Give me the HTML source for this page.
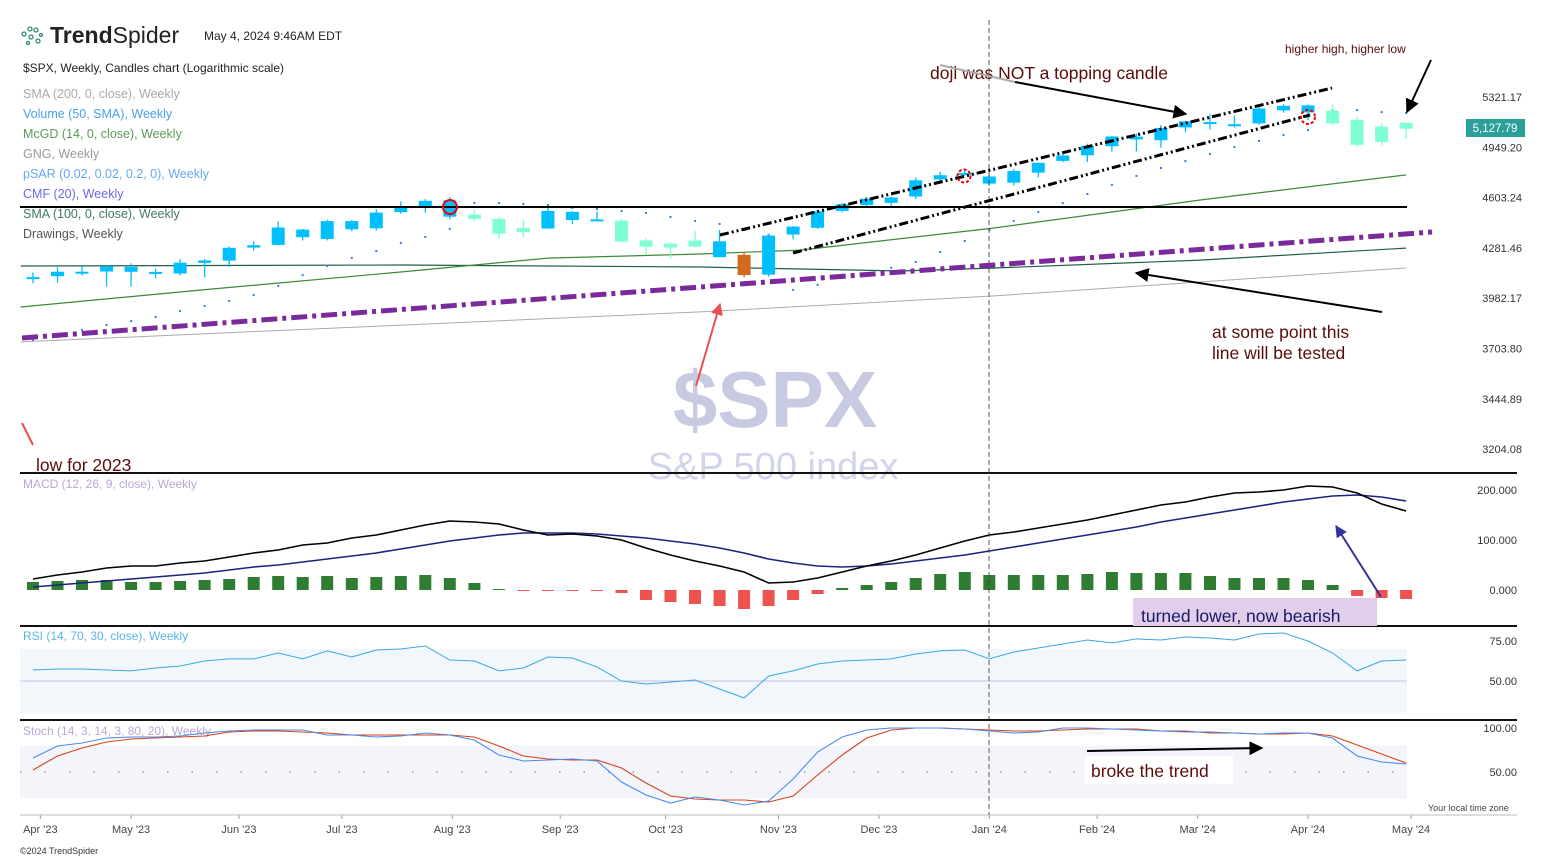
<!DOCTYPE html>
<html><head><meta charset="utf-8">
<style>
html,body{margin:0;padding:0;background:#fff;}
svg{display:block;font-family:"Liberation Sans",sans-serif;}
</style></head>
<body>
<svg id="chart" width="1547" height="860" viewBox="0 0 1547 860" xmlns="http://www.w3.org/2000/svg">
<defs>
<marker id="ahBlack" viewBox="0 0 10 10" refX="9" refY="5" markerWidth="7" markerHeight="7" orient="auto"><path d="M0,0 L10,5 L0,10 z" fill="#000"/></marker>
<marker id="ahRed" viewBox="0 0 10 10" refX="9" refY="5" markerWidth="6" markerHeight="6" orient="auto"><path d="M0,0 L10,5 L0,10 z" fill="#e85050"/></marker>
<marker id="ahBlue" viewBox="0 0 10 10" refX="9" refY="5" markerWidth="6" markerHeight="6" orient="auto"><path d="M0,0 L10,5 L0,10 z" fill="#33339a"/></marker>
</defs>
<g>
<g fill="none" stroke="#2e8a7a" stroke-width="1.3">
<circle cx="24" cy="34" r="2"/><circle cx="30" cy="29" r="2"/><circle cx="36" cy="30" r="2"/><circle cx="31" cy="37" r="2"/><circle cx="38" cy="41" r="2"/><circle cx="28" cy="43" r="1.5"/><circle cx="41" cy="35" r="1.5"/>
</g>
<text x="50" y="43" font-size="23" fill="#222"><tspan font-weight="bold">Trend</tspan>Spider</text>
</g>
<text x="204" y="40" font-size="12" fill="#222">May 4, 2024 9:46AM EDT</text>
<text x="23" y="72" font-size="12" fill="#222">$SPX, Weekly, Candles chart (Logarithmic scale)</text>
<g font-size="12.5">
<text x="23" y="98" fill="#aaa">SMA (200, 0, close), Weekly</text>
<text x="23" y="118" fill="#4aa0e8">Volume (50, SMA), Weekly</text>
<text x="23" y="138" fill="#5a9a5a">McGD (14, 0, close), Weekly</text>
<text x="23" y="158" fill="#999">GNG, Weekly</text>
<text x="23" y="178" fill="#66a6f0">pSAR (0.02, 0.02, 0.2, 0), Weekly</text>
<text x="23" y="198" fill="#6a6ae8">CMF (20), Weekly</text>
<text x="23" y="218" fill="#3f7a66">SMA (100, 0, close), Weekly</text>
<text x="23" y="238" fill="#555">Drawings, Weekly</text>
</g>
<text x="775" y="427" font-size="80" font-weight="bold" fill="#c8cae2" text-anchor="middle">$SPX</text>
<text x="773" y="479" font-size="38" fill="#d2d4ea" text-anchor="middle">S&amp;P 500 index</text>
<g id="price-pane"></g>
<g id="macd-pane"></g>
<g id="rsi-pane"></g>
<g id="stoch-pane"></g>
<g id="xaxis"></g>
<line x1="20" y1="473" x2="1517" y2="473" stroke="#111" stroke-width="2"/>
<line x1="20" y1="626" x2="1517" y2="626" stroke="#111" stroke-width="2"/>
<line x1="20" y1="720" x2="1517" y2="720" stroke="#111" stroke-width="2"/>
<line x1="20" y1="815" x2="1517" y2="815" stroke="#bbb" stroke-width="1"/>
<line x1="989" y1="20" x2="989" y2="815" stroke="#333" stroke-width="0.8" stroke-dasharray="5,3"/>
<line x1="20" y1="207" x2="1407" y2="207" stroke="#000" stroke-width="2"/>
<line x1="22" y1="338" x2="1432" y2="232" stroke="#7a2a9a" stroke-width="5" stroke-dasharray="16,5,4,5"/>
<line x1="720" y1="235" x2="1332" y2="88" stroke="#000" stroke-width="3" stroke-dasharray="9,3,2,3,2,3"/>
<line x1="793" y1="253" x2="1310" y2="115" stroke="#000" stroke-width="3" stroke-dasharray="9,3,2,3,2,3"/>
<circle cx="450" cy="207" r="7" fill="none" stroke="#e00" stroke-width="2"/>
<circle cx="964" cy="176" r="6.5" fill="none" stroke="#e00" stroke-width="2" stroke-dasharray="3,2"/>
<circle cx="1308" cy="117" r="7" fill="none" stroke="#e00" stroke-width="2" stroke-dasharray="3,2"/>
<g font-size="17.5" fill="#5a0c0c">
<text x="930" y="79">doji was NOT a topping candle</text>
<text x="1212" y="338">at some point this</text>
<text x="1212" y="359">line will be tested</text>
<text x="36" y="471">low for 2023</text>
</g>
<text x="1285" y="53" font-size="12" fill="#5a0c0c">higher high, higher low</text>
<polyline points="940,65 1015,82" fill="none" stroke="#aaa" stroke-width="2"/>
<line x1="1015" y1="82" x2="1186" y2="114" stroke="#000" stroke-width="2" marker-end="url(#ahBlack)"/>
<line x1="1431" y1="60" x2="1407" y2="112" stroke="#000" stroke-width="2" marker-end="url(#ahBlack)"/>
<line x1="1382" y1="312" x2="1136" y2="273" stroke="#000" stroke-width="2" marker-end="url(#ahBlack)"/>
<line x1="696" y1="386" x2="720" y2="304" stroke="#e85050" stroke-width="2" marker-end="url(#ahRed)"/>
<line x1="22" y1="423" x2="33" y2="445" stroke="#e85050" stroke-width="2"/>
<rect x="1133" y="598" width="244" height="28" fill="#e2cdea"/>
<text x="1141" y="622" font-size="17.5" fill="#1a1a6a">turned lower, now bearish</text>
<line x1="1381" y1="597" x2="1336" y2="526" stroke="#33339a" stroke-width="2" marker-end="url(#ahBlue)"/>
<rect x="1085" y="756" width="148" height="28" fill="#fff"/>
<text x="1091" y="777" font-size="17.5" fill="#5a0c0c">broke the trend</text>
<line x1="1087" y1="751" x2="1262" y2="748" stroke="#000" stroke-width="2" marker-end="url(#ahBlack)"/>
<rect x="1466" y="119" width="59" height="18" fill="#2aa198"/>
<text x="1495" y="132" font-size="11.5" fill="#fff" text-anchor="middle">5,127.79</text>
<text x="1428" y="811" font-size="9" fill="#444">Your local time zone</text>
<text x="20" y="854" font-size="9" fill="#333">©2024 TrendSpider</text>
</svg>
<script>
const opens=[4102,4110,4137,4138,4166,4136,4126,4190,4204,4283,4300,4396,4337,4450,4404,4508,4538,4585,4492,4464,4380,4403,4510,4461,4453,4328,4284,4289,4322,4239,4120,4365,4407,4516,4554,4569,4610,4725,4758,4745,4703,4772,4853,4892,4957,5026,5000,5093,5132,5111,5123,5219,5257,5218,5149,4988,5084];
const highs=[4133,4164,4170,4170,4187,4154,4213,4212,4290,4322,4448,4400,4458,4456,4527,4578,4594,4607,4528,4474,4458,4541,4514,4511,4466,4342,4317,4386,4394,4259,4366,4418,4521,4568,4608,4609,4738,4778,4793,4754,4798,4842,4907,4975,5030,5048,5111,5140,5190,5179,5262,5265,5264,5263,5179,5123,5124];
const lows=[4069,4072,4114,4049,4048,4098,4114,4103,4166,4264,4296,4328,4328,4385,4389,4498,4505,4463,4448,4335,4350,4402,4431,4449,4316,4238,4217,4284,4224,4103,4107,4334,4401,4507,4537,4546,4594,4700,4751,4682,4683,4740,4845,4845,4918,4920,4946,5057,5076,5091,5114,5203,5146,5107,4953,4963,5011];
const closes=[4105,4137,4133,4169,4136,4124,4191,4205,4282,4298,4409,4348,4450,4398,4505,4536,4582,4478,4464,4370,4406,4516,4457,4450,4320,4288,4308,4327,4224,4117,4358,4415,4514,4559,4595,4604,4719,4754,4770,4697,4783,4840,4891,4959,5027,5006,5089,5137,5124,5117,5234,5254,5204,5123,4967,5100,5128];
const gng="bbbbbbbbbbbbbbbbbbaaabbbaaaabobbbbbbbbbbbbbbbbbbbbbbbaaaa";
const psar=[3749,3776,3804,3831,3853,3875,3909,3937,3966,4000,4053,4117,4171,4220,4262,4312,4349,4400,4568,4568,4561,4554,4535,4528,4515,4502,4476,4451,4432,4394,4362,4030,4059,4100,4129,4160,4195,4256,4324,4394,4451,4509,4567,4627,4688,4749,4804,4852,4902,4951,4994,5038,5074,5222,5222,5207,5200];
const mcgdIdx=[-0.5,6.8,15,21,27.2,31.3,39.2,47.6,56];
const mcgdVal=[3932,4029,4135,4219,4244,4268,4406,4587,4756];
const sma100Idx=[-0.5,15,27.2,35.4,39.2,47.6,56];
const sma100Val=[4171,4177,4165,4141,4159,4207,4280];
const sma200Idx=[-0.5,27.2,39.2,56];
const sma200Val=[3739,3904,3995,4159];
const priceTicks=[5321.17,4949.20,4603.24,4281.46,3982.17,3703.80,3444.89,3204.08];
const macdLine=[22,30,36,44,48,48,54,58,66,74,80,90,94,104,110,120,130,138,136,132,120,110,112,108,100,84,70,58,48,36,14,16,24,36,48,58,70,84,98,110,116,124,132,140,150,160,170,176,186,194,196,200,208,206,194,172,158];
const macdSignal=[6,10,14,18,22,26,30,34,40,46,50,56,62,68,74,82,90,98,104,110,114,114,114,112,108,104,98,92,84,74,62,54,48,46,48,52,58,64,70,78,86,94,102,110,118,126,136,144,152,160,168,176,182,188,190,186,178];
const macdHist=[16,18,20,20,16,16,18,20,22,26,28,26,28,24,26,28,30,24,14,2,-2,-2,-2,-2,-6,-20,-24,-28,-32,-38,-32,-20,-8,4,10,16,24,32,36,30,30,30,30,32,36,34,34,34,28,24,24,24,20,10,-12,-16,-18];
const macdTicks=[200,100,0];
const rsi=[56.9,57.5,57.5,56.9,56.3,58.1,59.4,62.5,63.8,63.8,67.5,63.8,68.8,65,69.4,70,71.9,63.1,62.5,56.3,58.1,65,64.4,58.8,50,48.1,49.4,50.6,45,39.4,53.1,56.3,60.6,62.5,63.1,63.8,66.9,68.8,69.4,63.8,68.1,70.6,73.1,75.6,73.8,76.3,75.6,77.5,76.9,75.6,79.4,80,75,67.5,56.3,62.5,63.1];
const rsiTicks=[75,50];
const stochK=[65.9,79.5,83,88.6,89.8,89.8,90.9,94.3,96.6,97.7,97.7,97.7,92,92,89.8,90.9,94.3,92,86.4,69.3,62.5,63.6,64.8,62.5,38.6,23.9,14.8,21.6,18.2,12.5,17,42,72.7,89.8,97.7,100,100,100,98.9,96.6,94.3,95.5,100,100,98.9,97.7,96.6,95.5,95.5,94.3,93.2,94.3,94.3,88.6,68.2,61.4,59.1];
const stochD=[52.3,68.2,77.3,84.1,87.5,88.6,89.8,90.9,95.5,96.6,96.6,95.5,94.3,92,92,92,92,92,89.8,79.5,68.2,64.8,63.6,63.6,54.5,37.5,22.7,19.3,18.2,18.2,15.9,22.7,46.6,69.3,88.6,97.7,100,100,98.9,97.7,96.6,96.6,97.7,98.9,98.9,98.9,96.6,96.6,94.3,94.3,93.2,93.2,94.3,90.9,80.7,70.5,60.2];
const stochTicks=[100,50];
const monthLabels=["Apr '23","May '23","Jun '23","Jul '23","Aug '23","Sep '23","Oct '23","Nov '23","Dec '23","Jan '24","Feb '24","Mar '24","Apr '24","May '24"];
const monthIdx=[0.3,4,8.4,12.6,17.1,21.5,25.8,30.4,34.5,39,43.4,47.5,52,56.2];

const NS="http://www.w3.org/2000/svg";
function mk(parent,tag,attrs){const e=document.createElementNS(NS,tag);for(const k in attrs)e.setAttribute(k,attrs[k]);parent.appendChild(e);return e;}
const X0=33,STEP=24.52;
function xs(i){return X0+i*STEP;}
function yp(p){return 97+694*Math.log(5321.17/p);}
function ym(v){return 590-v*0.5;}
function yr(v){return 641+(75-v)*1.6;}
function ys(v){return 728+(100-v)*0.88;}
const colors={b:"#00bfff",a:"#7fffd4",o:"#d2691e"};

const pp=document.getElementById('price-pane');
function drawLine(parent,idx,vals,yf,stroke,w,name){
  const pts=idx.map((i,k)=>xs(i).toFixed(1)+","+yf(vals[k]).toFixed(1)).join(" ");
  const l=mk(parent,'polyline',{points:pts,fill:'none',stroke:stroke,'stroke-width':w});
  
  
}
drawLine(pp,sma200Idx,sma200Val,yp,"#aaa",1,"sma200-line");
drawLine(pp,sma100Idx,sma100Val,yp,"#1f5f4a",1.2,"sma100-line");
drawLine(pp,mcgdIdx,mcgdVal,yp,"#3a8a3a",1.2,"mcgd-line");
priceTicks.forEach((t,k)=>{
  const tx=mk(pp,'text',{x:1522,y:(yp(t)+4).toFixed(1),'font-size':11,fill:'#333','text-anchor':'end'});
  tx.textContent=t.toFixed(2);
  
  
});
psar.forEach((v,i)=>{
  const c=mk(pp,'rect',{x:(xs(i)-1).toFixed(1),y:(yp(v)-1).toFixed(1),width:2,height:2,fill:'#3a7ae8'});
  
  
});
opens.forEach((o,i)=>{
  const g=mk(pp,'g',{});
  
  
  const col=colors[gng[i]];
  const x=xs(i);
  mk(g,'line',{x1:x,x2:x,y1:yp(highs[i]).toFixed(1),y2:yp(lows[i]).toFixed(1),stroke:col,'stroke-width':1.3});
  const top=yp(Math.max(o,closes[i])),bot=yp(Math.min(o,closes[i]));
  mk(g,'rect',{x:(x-6.5).toFixed(1),y:top.toFixed(1),width:13,height:Math.max(2,bot-top).toFixed(1),fill:col});
});

const mp=document.getElementById('macd-pane');
const lbl=(p,x,y,t,c,n)=>{const e=mk(p,'text',{x:x,y:y,'font-size':12,fill:c});e.textContent=t;};
lbl(mp,23,488,"MACD (12, 26, 9, close), Weekly","#b9a6d6","macd-legend");
macdTicks.forEach((t,k)=>{
  const tx=mk(mp,'text',{x:1517,y:ym(t)+4,'font-size':11,fill:'#333','text-anchor':'end'});
  tx.textContent=t.toFixed(3);
  
  
});
macdHist.forEach((v,i)=>{
  const y0=ym(0),y1=ym(v);
  const r=mk(mp,'rect',{x:(xs(i)-6).toFixed(1),y:Math.min(y0,y1).toFixed(1),width:12,height:Math.abs(y1-y0).toFixed(1),fill:v>=0?'#2f7d32':'#ef5350'});
  
  
});
const allIdx=opens.map((_,i)=>i);
drawLine(mp,allIdx,macdSignal,ym,"#1a237e",1.6,"macd-signal-line");
drawLine(mp,allIdx,macdLine,ym,"#000",1.6,"macd-line");

const rp=document.getElementById('rsi-pane');
const rb=mk(rp,'rect',{x:20,y:yr(70),width:1387,height:yr(30)-yr(70),fill:'#f1f7fb'});


const rm=mk(rp,'line',{x1:20,x2:1407,y1:yr(50),y2:yr(50),stroke:'#c9c0e6','stroke-width':1});


lbl(rp,23,640,"RSI (14, 70, 30, close), Weekly","#5ab4e8","rsi-legend");
rsiTicks.forEach((t,k)=>{
  const tx=mk(rp,'text',{x:1517,y:yr(t)+4,'font-size':11,fill:'#333','text-anchor':'end'});
  tx.textContent=t.toFixed(2);
  
  
});
drawLine(rp,allIdx,rsi,yr,"#3aa8e8",1,"rsi-line");

const sp=document.getElementById('stoch-pane');
const sb=mk(sp,'rect',{x:20,y:ys(80),width:1387,height:ys(20)-ys(80),fill:'#f4f4fb'});


const sm=mk(sp,'line',{x1:20,x2:1407,y1:ys(50),y2:ys(50),stroke:'#999','stroke-width':1.5,'stroke-dasharray':'1.5,23'});


lbl(sp,23,735,"Stoch (14, 3, 14, 3, 80, 20), Weekly","#b9a6d6","stoch-legend");
stochTicks.forEach((t,k)=>{
  const tx=mk(sp,'text',{x:1517,y:ys(t)+4,'font-size':11,fill:'#333','text-anchor':'end'});
  tx.textContent=t.toFixed(2);
  
  
});
drawLine(sp,allIdx,stochD,ys,"#d84315",1.1,"stoch-d-line");
drawLine(sp,allIdx,stochK,ys,"#4a8af0",1.1,"stoch-k-line");

const xa=document.getElementById('xaxis');
monthLabels.forEach((m,k)=>{
  const x=xs(monthIdx[k]);
  mk(xa,'line',{x1:x,x2:x,y1:815,y2:819,stroke:'#999'});
  const tx=mk(xa,'text',{x:x,y:833,'font-size':11,fill:'#444','text-anchor':'middle'});
  tx.textContent=m;
  
  
});
</script>
</body></html>
